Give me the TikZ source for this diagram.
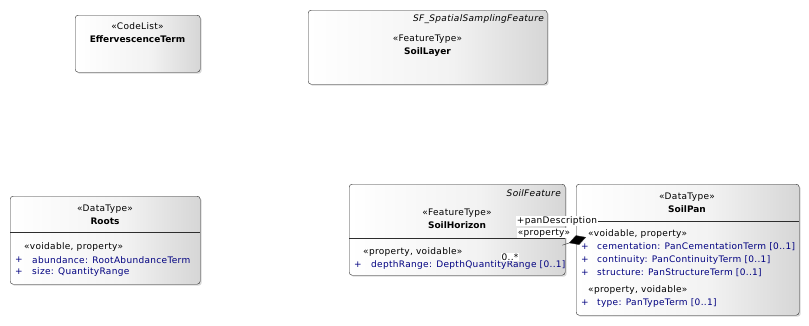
\documentclass[tikz,border=0pt]{standalone}
\usepackage{fontspec}
\setmainfont{DejaVu Sans}[LetterSpace=3.5,BoldFeatures={LetterSpace=0}]
\usetikzlibrary{shadows,arrows.meta}
\definecolor{eaedge}{RGB}{45,45,45}
\definecolor{eagrey}{RGB}{214,214,214}
\definecolor{eanavy}{RGB}{0,0,128}
\pgfdeclarehorizontalshading{eabox}{100bp}{color(0bp)=(white); color(25bp)=(white); color(55bp)=(white!95!black); color(75bp)=(eagrey); color(100bp)=(eagrey)}

\begin{document}
\begin{tikzpicture}[x=1pt,y=-1pt,font=\fontsize{9}{13}\selectfont]
  \tikzset{class box/.style={draw=eaedge,rounded corners=3pt,anchor=north west,inner sep=0pt,shading=eabox,drop shadow={shadow xshift=1.5pt,shadow yshift=-1.5pt,opacity=0.3}},
    head/.style={align=center,inner sep=0pt},
    parent/.style={anchor=east,inner sep=0pt,font=\fontsize{9}{13}\selectfont\itshape},
    tag/.style={anchor=west,inner sep=0pt},
    attr/.style={anchor=west,inner sep=0pt,text=eanavy},
    role/.style={fill=white,inner sep=0.6pt}}
  \useasboundingbox (0,0) rectangle (809,325);

  % code list, top left
  \node[class box,minimum width=125pt,minimum height=57pt] (effer) at (75,15) {};
  \node[head] (effer head) at (137.5,32.5) {«CodeList»\\\textbf{EffervescenceTerm}};

  % soil layer
  \node[class box,minimum width=239pt,minimum height=74pt] (layer) at (308,10) {};
  \node[parent] (layer parent) at (544,19) {SF\_SpatialSamplingFeature};
  \node[head] (layer head) at (427.5,45.5) {«FeatureType»\\\textbf{SoilLayer}};

  % roots
  \node[class box,minimum width=190pt,minimum height=88pt] (roots) at (10,196) {};
  \node[head] (roots head) at (105,214.5) {«DataType»\\\textbf{Roots}};
  \draw[eaedge] (roots.west |- 0,232) -- (roots.east |- 0,232);
  \node[tag] (roots tag) at (24,247) {«voidable, property»};
  \node[attr] (roots p1) at (15,260) {+};
  \node[attr] (roots a1) at (32,260) {abundance: RootAbundanceTerm};
  \node[attr] (roots p2) at (15,272) {+};
  \node[attr] (roots a2) at (32,272) {size: QuantityRange};

  % soil horizon
  \node[class box,minimum width=216pt,minimum height=91pt] (horizon) at (349,184) {};
  \node[parent] (horizon parent) at (561,193) {SoilFeature};
  \node[head] (horizon head) at (457,219) {«FeatureType»\\\textbf{SoilHorizon}};
  \draw[eaedge] (horizon.west |- 0,238) -- (horizon.east |- 0,238);
  \node[tag] (horizon tag) at (363,252) {«property, voidable»};
  \node[attr] (horizon p1) at (354,265) {+};
  \node[attr] (horizon a1) at (371,265) {depthRange: DepthQuantityRange [0..1]};

  % soil pan
  \node[class box,minimum width=223pt,minimum height=131pt] (pan) at (576,184) {};
  \node[head] (pan head) at (687,203) {«DataType»\\\textbf{SoilPan}};
  \draw[eaedge] (pan.west |- 0,221) -- (pan.east |- 0,221);
  \node[tag] (pan tag1) at (588,234) {«voidable, property»};
  \node[attr] (pan p1) at (581,247) {+};
  \node[attr] (pan a1) at (597,247) {cementation: PanCementationTerm [0..1]};
  \node[attr] (pan p2) at (581,260) {+};
  \node[attr] (pan a2) at (597,260) {continuity: PanContinuityTerm [0..1]};
  \node[attr] (pan p3) at (581,273) {+};
  \node[attr] (pan a3) at (597,273) {structure: PanStructureTerm [0..1]};
  \node[tag] (pan tag2) at (588,290) {«property, voidable»};
  \node[attr] (pan p4) at (581,303) {+};
  \node[attr] (pan a4) at (597,303) {type: PanTypeTerm [0..1]};

  % aggregation from the horizon to its pan description
  \node[role] (pan role) at (557,221) {+panDescription};
  \node[role] (pan stereo) at (544,233) {«property»};
  \node[role] (pan mult) at (510,257) {0..*};
  \draw[eaedge,-{Diamond[length=18pt,width=10pt,fill=black]}] ([xshift=-3pt,yshift=-15.5pt]horizon.east) -- ([xshift=10pt,yshift=12.5pt]pan.west);
\end{tikzpicture}
\end{document}
